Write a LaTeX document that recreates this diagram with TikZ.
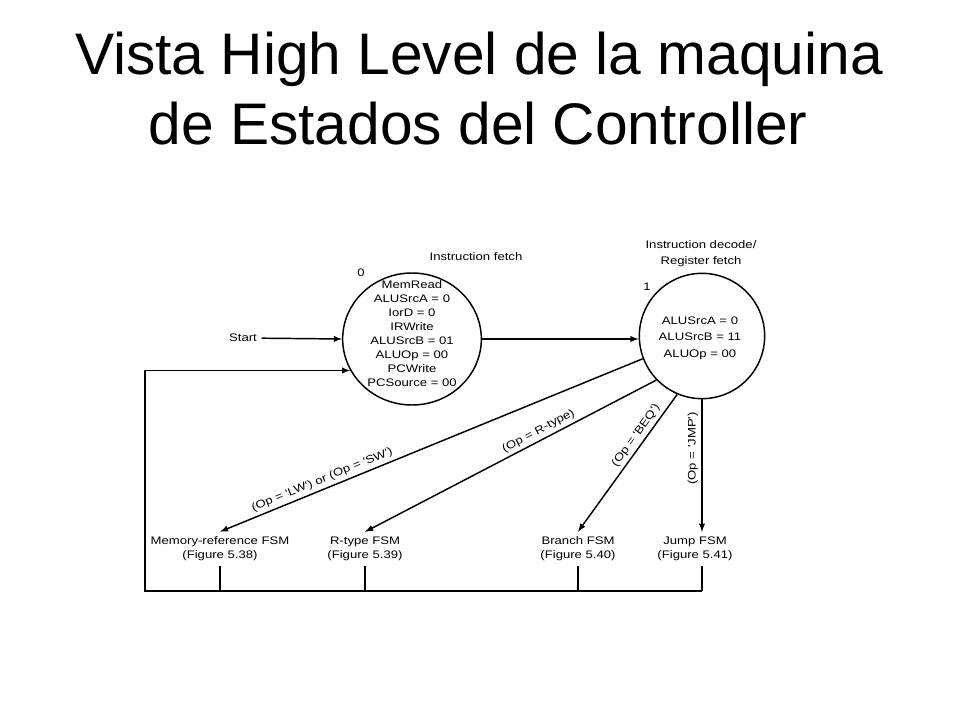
\documentclass[tikz,border=0pt]{standalone}
\usepackage{fontspec}
\newfontfamily\titlefont{Liberation Sans}
\newfontfamily\diagfont[FakeStretch=1.2]{Liberation Sans}
\usetikzlibrary{positioning,shapes.geometric,arrows,calc}

\tikzset{
  slidetitle/.style={font=\titlefont\fontsize{44}{52}\selectfont, inner sep=0pt},
  state/.style={draw, ellipse, line width=1.1pt, inner sep=0pt},
  statetext/.style={align=center, font=\diagfont\fontsize{8.2}{10.5}\selectfont, inner sep=0pt},
  fsm/.style={align=center, font=\diagfont\fontsize{8.2}{10.3}\selectfont, inner sep=1pt, outer sep=3pt},
  lbl/.style={align=center, font=\diagfont\fontsize{8.2}{12}\selectfont},
  cond/.style={font=\diagfont\fontsize{8.2}{10}\selectfont, inner sep=2.5pt},
  wire/.style={line width=1.1pt},
  link/.style={wire, -latex},
}

\begin{document}
\begin{tikzpicture}[x=0.75pt, y=-0.75pt]
\useasboundingbox (0,0) rectangle (960,720);

% title
\node[slidetitle, anchor=base] (title1) at (479,75) {Vista High Level de la maquina};
\node[slidetitle, anchor=base] (title2) at (478,145) {de Estados del Controller};

% states
\node[state, minimum width=104pt, minimum height=99pt] (s0) at (412,339) {};
\node[state, minimum width=94pt, minimum height=94pt] (s1) at (702,336) {};
\node[statetext] (s0txt) at (412,334) {MemRead\\ALUSrcA = 0\\IorD = 0\\IRWrite\\ALUSrcB = 01\\ALUOp = 00\\PCWrite\\PCSource = 00};
\node[statetext, font=\diagfont\fontsize{8.2}{12.4}\selectfont] (s1txt) at (700,338) {ALUSrcA = 0\\ALUSrcB = 11\\ALUOp = 00};

% labels
\node[lbl] (n0) at (361,273) {0};
\node[lbl] (n1) at (647,287) {1};
\node[lbl] (fetch) at (476,257) {Instruction fetch};
\node[lbl] (decode) at (701,254) {Instruction decode/\\Register fetch};
\node[lbl] (start) at (243,338) {Start};

% sub-machines
\node[fsm] (mem) at (220,549) {Memory-reference FSM\\(Figure 5.38)};
\node[fsm] (rtype) at (365,549) {R-type FSM\\(Figure 5.39)};
\node[fsm] (branch) at (578,549) {Branch FSM\\(Figure 5.40)};
\node[fsm] (jump) at (695,549) {Jump FSM\\(Figure 5.41)};
\coordinate (bus) at (145,591);

% transitions
\draw[link] (start) -- (s0.west);
\draw[link] (s0.east) -- (s0.east -| s1.west);
\draw[link] (s1.201) -- node[cond, sloped, above, pos=.75] {(Op = 'LW') or (Op = 'SW')} (mem.north);
\draw[link] (s1.224) -- node[cond, sloped, above, pos=.39] {(Op = R-type)} (rtype.north);
\draw[link] (s1.247) -- node[cond, sloped, above, pos=.34] {(Op = 'BEQ')} (branch.north);
\draw[link] (s1.south) -- node[cond, rotate=90, above, pos=.37] {(Op = 'JMP')} (s1.south |- jump.north);

% back to state 0
\draw[wire] (mem.south) -- (mem.south |- bus);
\draw[wire] (rtype.south) -- (rtype.south |- bus);
\draw[wire] (branch.south) -- (branch.south |- bus);
\draw[wire] (s1.south |- jump.south) -- (s1.south |- bus);
\draw[link] (s1.south |- bus) -- (bus) -- (bus |- s0.207) -- (s0.207);
\end{tikzpicture}
\end{document}
